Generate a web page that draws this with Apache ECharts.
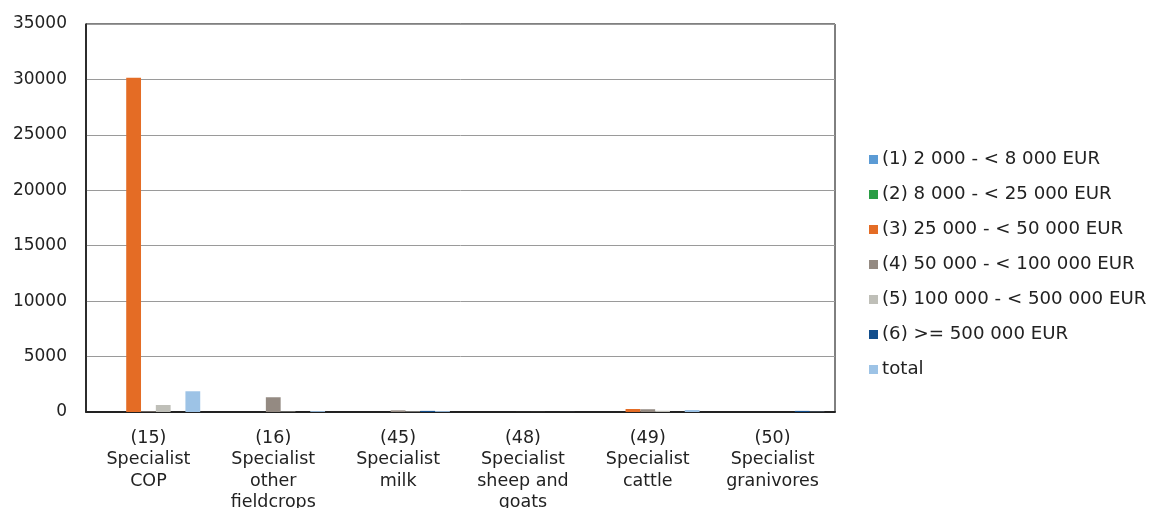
<!DOCTYPE html>
<html>
<head>
<meta charset="utf-8">
<script src="https://cdn.jsdelivr.net/npm/echarts@6/dist/echarts.min.js"></script>
<style>
  html, body { margin: 0; padding: 0; background: #fff; }
  #chart { width: 1155px; height: 508px; }
</style>
</head>
<body>
<div id="chart"></div>
<script>
// Farm types (category axis)
const categories = [
  '(15)\nSpecialist\nCOP',
  '(16)\nSpecialist\nother\nfieldcrops',
  '(45)\nSpecialist\nmilk',
  '(48)\nSpecialist\nsheep and\ngoats',
  '(49)\nSpecialist\ncattle',
  '(50)\nSpecialist\ngranivores'
];

// Economic size classes (series names)
const seriesNames = [
  '(1) 2 000 - < 8 000 EUR',
  '(2) 8 000 - < 25 000 EUR',
  '(3) 25 000 - < 50 000 EUR',
  '(4) 50 000 - < 100 000 EUR',
  '(5) 100 000 - < 500 000 EUR',
  '(6) >= 500 000 EUR',
  'total'
];

// Values per size class, one per farm type
const size1 = [0, 0, 0, 0, 0, 0];
const size2 = [0, 0, 0, 0, 0, 0];
const size3 = [30150, 0, 0, 0, 270, 0];
const size4 = [60, 1330, 150, 5, 250, 0];
const size5 = [630, 40, 50, 5, 110, 0];
const size6 = [0, 0, 100, 0, 0, 100];
const total = [1870, 80, 80, 5, 180, 20];

const seriesValues = [size1, size2, size3, size4, size5, size6, total];
const colors = ['#5b9bd5', '#2a9d45', '#e46c25', '#948a82', '#bfbfb8', '#124e8c', '#9dc3e6'];

// Value axis ticks
const yMin = 0;
const yMax = 35000;
const yStep = 5000;

const font = 'Verdana, "DejaVu Sans", sans-serif';

const chart = echarts.init(document.getElementById('chart'), null, { renderer: 'canvas' });

chart.setOption({
  animation: false,
  color: colors,
  textStyle: { fontFamily: font },
  grid: {
    left: 86, right: 320, top: 24, bottom: 96,
    containLabel: false,
    outerBoundsMode: 'none',
    show: true, borderColor: '#000', borderWidth: 1, backgroundColor: 'transparent'
  },
  legend: {
    orient: 'vertical',
    left: 864, top: 145,
    icon: 'rect',
    itemWidth: 9, itemHeight: 9,
    itemGap: 16,
    textStyle: { fontFamily: font, fontSize: 18.2, color: '#222', lineHeight: 19, padding: [0, 0, 0, -1] },
    data: seriesNames
  },
  xAxis: {
    type: 'category',
    data: categories,
    axisLine: { show: true, lineStyle: { color: '#222', width: 2 } },
    axisTick: { show: false },
    axisLabel: {
      interval: 0,
      margin: 16,
      fontFamily: font, fontSize: 17.5, lineHeight: 21.3, color: '#222'
    }
  },
  yAxis: {
    type: 'value',
    min: yMin, max: yMax, interval: yStep,
    axisLine: { show: true, lineStyle: { color: '#111', width: 1.5 } },
    axisTick: { show: false },
    axisLabel: {
      margin: 19, fontFamily: font, fontSize: 17, color: '#222',
      formatter: v => String(v)
    },
    splitLine: { lineStyle: { color: '#9a9a9a', width: 1 } }
  },
  series: seriesNames.map((name, i) => ({
    name: name,
    type: 'bar',
    data: seriesValues[i],
    barGap: '0%',
    barCategoryGap: '17%',
    itemStyle: { color: colors[i] }
  }))
});
</script>
</body>
</html>
